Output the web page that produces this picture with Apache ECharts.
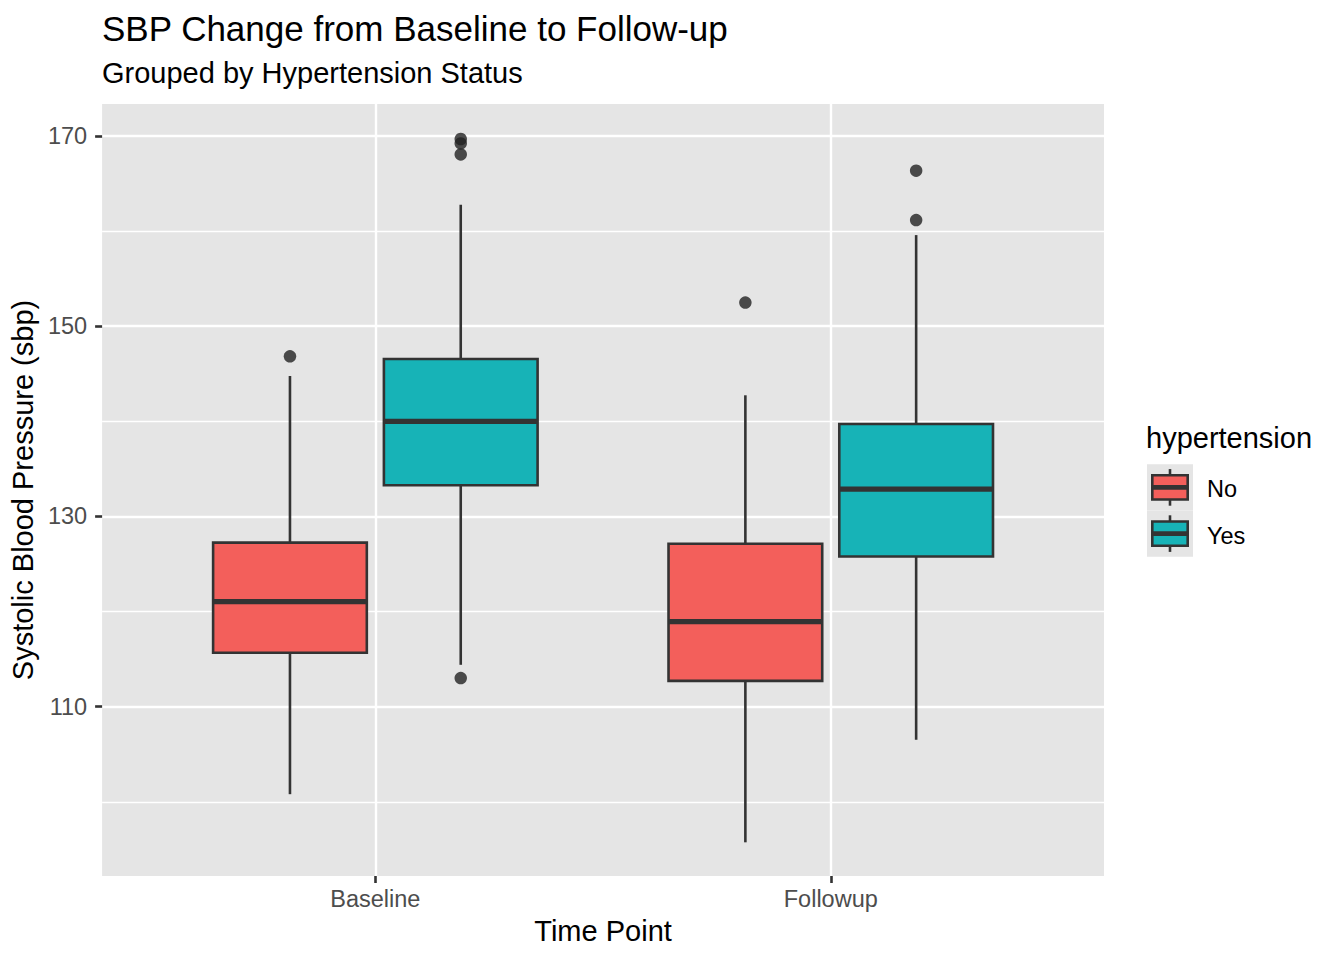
<!DOCTYPE html>
<html>
<head>
<meta charset="utf-8">
<script src="https://cdn.jsdelivr.net/npm/echarts@6/dist/echarts.min.js"></script>
<style>
html, body { margin: 0; padding: 0; background: #ffffff; }
#chart { width: 1344px; height: 960px; }
</style>
</head>
<body>
<div id="chart"></div>
<script>
// ---------------- data ----------------
const timePoints = ['Baseline', 'Followup'];
const groups = ['No', 'Yes'];
// per time point: [lower whisker, Q1, median, Q3, upper whisker]
const boxesNo = [
  [100.8, 115.67, 121.04, 127.24, 144.76],
  [95.74, 112.71, 118.94, 127.13, 142.73]
];
const boxesYes = [
  [114.4, 133.28, 139.99, 146.55, 162.76],
  [106.52, 125.78, 132.86, 139.71, 159.57]
];
const outliersNo = [[146.83], [152.48]];
const outliersYes = [[113.0, 168.05, 169.21, 169.67], [161.15, 166.34]];
const yMajorTicks = [110, 130, 150, 170];
const yMinorTicks = [100, 120, 140, 160];

// ---------------- style ----------------
const FONT = "'Liberation Sans', Arial, Helvetica, sans-serif";
const PANEL = '#E5E5E5';
const INK = '#333333';
const fills = ['#F35F5B', '#17B3B7'];
const dodge = [-0.1875, 0.1875];
const boxHalf = 0.16875;
const LW = 2.6;

function boxSeries(gi, boxes) {
  return {
    type: 'custom',
    name: groups[gi],
    data: boxes.map((b, i) => [i + 1].concat(b)),
    encode: { x: 0, y: [1, 2, 3, 4, 5] },
    z: 3,
    renderItem: function (params, api) {
      const xc = api.value(0) + dodge[gi];
      const lo = api.coord([xc, api.value(1)]);
      const q1 = api.coord([xc - boxHalf, api.value(2)]);
      const md = api.coord([xc, api.value(3)]);
      const q3 = api.coord([xc + boxHalf, api.value(4)]);
      const hi = api.coord([xc, api.value(5)]);
      const left = q1[0], right = q3[0];
      return {
        type: 'group',
        children: [
          { type: 'line', shape: { x1: md[0], y1: hi[1], x2: md[0], y2: q3[1] }, style: { stroke: INK, lineWidth: LW } },
          { type: 'line', shape: { x1: md[0], y1: q1[1], x2: md[0], y2: lo[1] }, style: { stroke: INK, lineWidth: LW } },
          { type: 'rect', shape: { x: left, y: q3[1], width: right - left, height: q1[1] - q3[1] },
            style: { fill: fills[gi], stroke: INK, lineWidth: LW } },
          { type: 'line', shape: { x1: left, y1: md[1], x2: right, y2: md[1] }, style: { stroke: INK, lineWidth: 5.2 } }
        ]
      };
    }
  };
}

function outlierSeries(gi, outs) {
  const pts = [];
  outs.forEach((vals, i) => vals.forEach(v => pts.push([i + 1 + dodge[gi], v])));
  return {
    type: 'scatter',
    name: groups[gi] + ' outliers',
    data: pts,
    symbol: 'circle',
    symbolSize: 12.5,
    itemStyle: { color: '#222222' },
    z: 4,
    silent: true
  };
}

// legend built from groups
const legendGraphics = [{
  type: 'text', x: 1146, y: 438,
  style: { text: 'hypertension', fontSize: 29, fontFamily: FONT, fill: '#000', verticalAlign: 'middle', align: 'left' }
}];
groups.forEach((g, i) => {
  const cy = 487.4 + i * 46.2;
  const cx = 1170;
  legendGraphics.push(
    { type: 'rect', shape: { x: 1147, y: cy - 23.1, width: 46, height: 46.2 }, style: { fill: PANEL } },
    { type: 'line', shape: { x1: cx, y1: cy - 18.3, x2: cx, y2: cy + 18.3 }, style: { stroke: INK, lineWidth: LW } },
    { type: 'rect', shape: { x: cx - 17.7, y: cy - 12.1, width: 35.4, height: 24.2 }, style: { fill: fills[i], stroke: INK, lineWidth: LW } },
    { type: 'line', shape: { x1: cx - 17.7, y1: cy, x2: cx + 17.7, y2: cy }, style: { stroke: INK, lineWidth: 4.8 } },
    { type: 'text', x: 1207, y: cy + 2,
      style: { text: g, fontSize: 23.5, fontFamily: FONT, fill: '#000', verticalAlign: 'middle', align: 'left' } }
  );
});

const chart = echarts.init(document.getElementById('chart'), null, { renderer: 'svg' });
chart.setOption({
  backgroundColor: '#ffffff',
  animation: false,
  title: [
    { text: 'SBP Change from Baseline to Follow-up', left: 102, top: 10, padding: 0,
      textStyle: { fontSize: 35, fontWeight: 'normal', color: '#000', fontFamily: FONT, lineHeight: 36 } },
    { text: 'Grouped by Hypertension Status', left: 102, top: 58, padding: 0,
      textStyle: { fontSize: 29, fontWeight: 'normal', color: '#000', fontFamily: FONT, lineHeight: 30 } }
  ],
  grid: { left: 101, right: 240, top: 104, bottom: 84, show: true, backgroundColor: PANEL, borderWidth: 0, containLabel: false },
  xAxis: {
    type: 'value', min: 0.4, max: 2.6,
    name: 'Time Point', nameLocation: 'middle', nameGap: 40,
    nameTextStyle: { fontSize: 29, color: '#000', fontFamily: FONT },
    axisLine: { show: false },
    axisTick: { show: true, length: 7, customValues: [1, 2], lineStyle: { color: INK, width: LW } },
    axisLabel: { customValues: [1, 2], formatter: v => timePoints[Math.round(v) - 1], fontSize: 23.5, color: '#4D4D4D', fontFamily: FONT, margin: 11 },
    splitLine: { show: true, lineStyle: { color: '#ffffff', width: 2.4 } }
  },
  yAxis: [
    {
      type: 'value', min: 92.2, max: 173.35,
      name: 'Systolic Blood Pressure (sbp)', nameLocation: 'middle', nameGap: 56,
      nameTextStyle: { fontSize: 29, color: '#000', fontFamily: FONT },
      axisLine: { show: false },
      axisTick: { show: true, length: 7, customValues: yMajorTicks, lineStyle: { color: INK, width: LW } },
      axisLabel: { customValues: yMajorTicks, fontSize: 23.5, color: '#4D4D4D', fontFamily: FONT, margin: 15 },
      splitLine: { show: true, lineStyle: { color: '#ffffff', width: 2.4 } }
    },
    {
      type: 'value', min: 92.2, max: 173.35, position: 'left',
      axisLine: { show: false },
      axisTick: { show: false, customValues: yMinorTicks },
      axisLabel: { show: false, customValues: yMinorTicks },
      splitLine: { show: true, lineStyle: { color: '#ffffff', width: 1.3 } }
    }
  ],
  graphic: legendGraphics,
  series: [
    boxSeries(0, boxesNo),
    boxSeries(1, boxesYes),
    outlierSeries(0, outliersNo),
    outlierSeries(1, outliersYes)
  ]
});
</script>
</body>
</html>
